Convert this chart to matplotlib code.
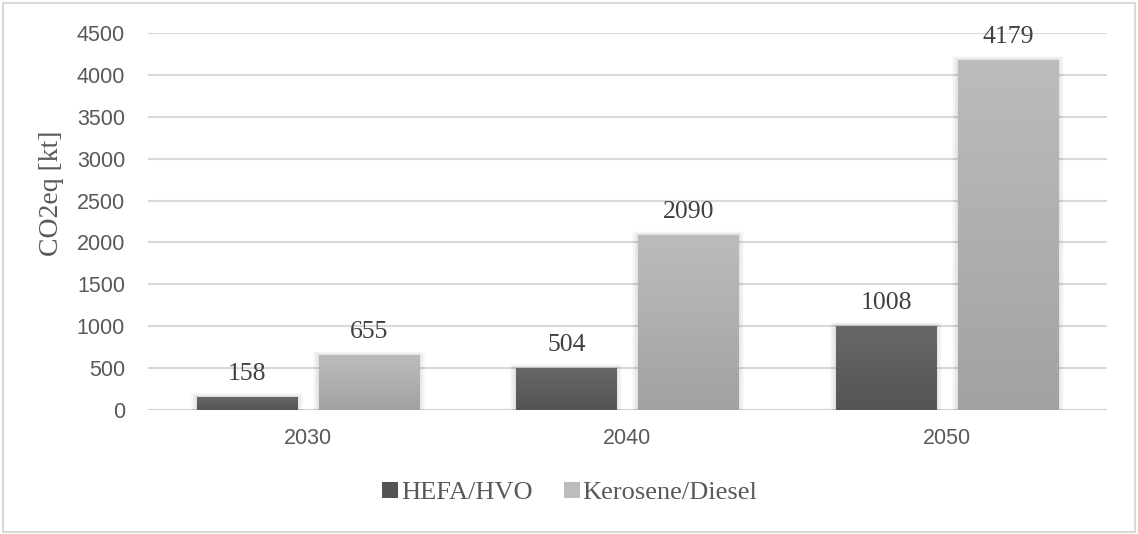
import numpy as np
import matplotlib
matplotlib.use("Agg")
import matplotlib.pyplot as plt
from matplotlib.patches import Patch, Rectangle

years = ["2030", "2040", "2050"]
series_names = ["HEFA/HVO", "Kerosene/Diesel"]
hefa = [158, 504, 1008]
kerosene = [655, 2090, 4179]
yticks = [0, 500, 1000, 1500, 2000, 2500, 3000, 3500, 4000, 4500]

dark_top, dark_bot = "#686868", "#545454"
light_top, light_bot = "#bcbcbc", "#a2a2a2"
tick_color = "#595959"
grid_color = "#d9d9d9"

W, H, DPI = 1138, 534, 100
fig = plt.figure(figsize=(W / DPI, H / DPI), dpi=DPI)
fig.patch.set_facecolor("white")

# light frame around the whole chart area
fig.add_artist(Rectangle((3 / W, 2 / H), 1132 / W, 529 / H, transform=fig.transFigure,
                         fill=False, edgecolor="#d9d9d9", linewidth=1.5))

ax = fig.add_axes([148 / W, 124 / H, 959 / W, 377 / H])
ax.set_xlim(-0.5, 2.5)
ax.set_ylim(0, 4500)

serif = ["Liberation Serif", "DejaVu Serif"]
sans = ["Liberation Sans", "DejaVu Sans"]

x = np.arange(len(years))
width = 0.313
offsets = [-0.191, 0.19]

# horizontal gridlines
for t in yticks:
    ax.axhline(t, color=grid_color if t else "#d0d0d0", linewidth=1.5, zorder=0)

px_x = (ax.get_xlim()[1] - ax.get_xlim()[0]) / 959.0
px_y = (ax.get_ylim()[1] - ax.get_ylim()[0]) / 377.0

grad = np.linspace(0, 1, 256).reshape(-1, 1)

def gradient_bars(vals, off, ctop, cbot, label):
    bars = ax.bar(x + off, vals, width, color=cbot, label=label, zorder=3)
    c1 = np.array(matplotlib.colors.to_rgb(cbot))
    c2 = np.array(matplotlib.colors.to_rgb(ctop))
    for b in bars:
        x0, y0 = b.get_x(), b.get_y()
        w, h = b.get_width(), b.get_height()
        # soft halo behind the bar
        for k in range(1, 7):
            ax.add_patch(Rectangle((x0 - k * px_x, y0), w + 2 * k * px_x, h + k * px_y * 0.6,
                                   facecolor="black", alpha=0.018, edgecolor="none", zorder=2))
        img = c1 + (c2 - c1) * grad[:, :, None] * np.ones((1, 1, 3))
        im = ax.imshow(img, extent=(x0, x0 + w, y0, y0 + h), origin="lower",
                       aspect="auto", zorder=4, interpolation="bilinear")
        im.set_clip_path(b)
        ax.annotate(f"{int(round(h))}", (x0 + w / 2, y0 + h), xytext=(0, 12),
                    textcoords="offset points", ha="center", va="baseline",
                    fontsize=18.5, family=serif, color="#404040", zorder=5)
    return bars

gradient_bars(hefa, offsets[0], dark_top, dark_bot, series_names[0])
gradient_bars(kerosene, offsets[1], light_top, light_bot, series_names[1])

ax.set_xlim(-0.5, 2.5)
ax.set_ylim(0, 4500)
ax.set_aspect("auto")

ax.set_xticks(x)
ax.set_xticklabels(years, family=sans, fontsize=15.5, color=tick_color)
ax.set_yticks(yticks)
ax.set_yticklabels([str(t) for t in yticks], family=sans, fontsize=15.5, color=tick_color)
ax.tick_params(axis="both", length=0)
ax.tick_params(axis="y", pad=16.5)
ax.tick_params(axis="x", pad=13)
for s in ax.spines.values():
    s.set_visible(False)

fig.text(52 / W, 1 - 193 / H, "CO2eq [kt]", rotation=90, ha="center", va="center",
         fontsize=20, family=serif, color=tick_color)

handles = [Patch(facecolor=dark_bot, edgecolor="none"), Patch(facecolor=light_top, edgecolor="none")]
fig.legend(handles, series_names, loc="center", bbox_to_anchor=(570 / W, 1 - 493 / H),
           ncol=2, frameon=False, prop={"family": serif, "size": 19},
           handlelength=0.6, handleheight=0.6, handletextpad=0.1, columnspacing=1.2,
           labelcolor=tick_color)

fig.savefig("out.png", dpi=DPI, facecolor="white")
